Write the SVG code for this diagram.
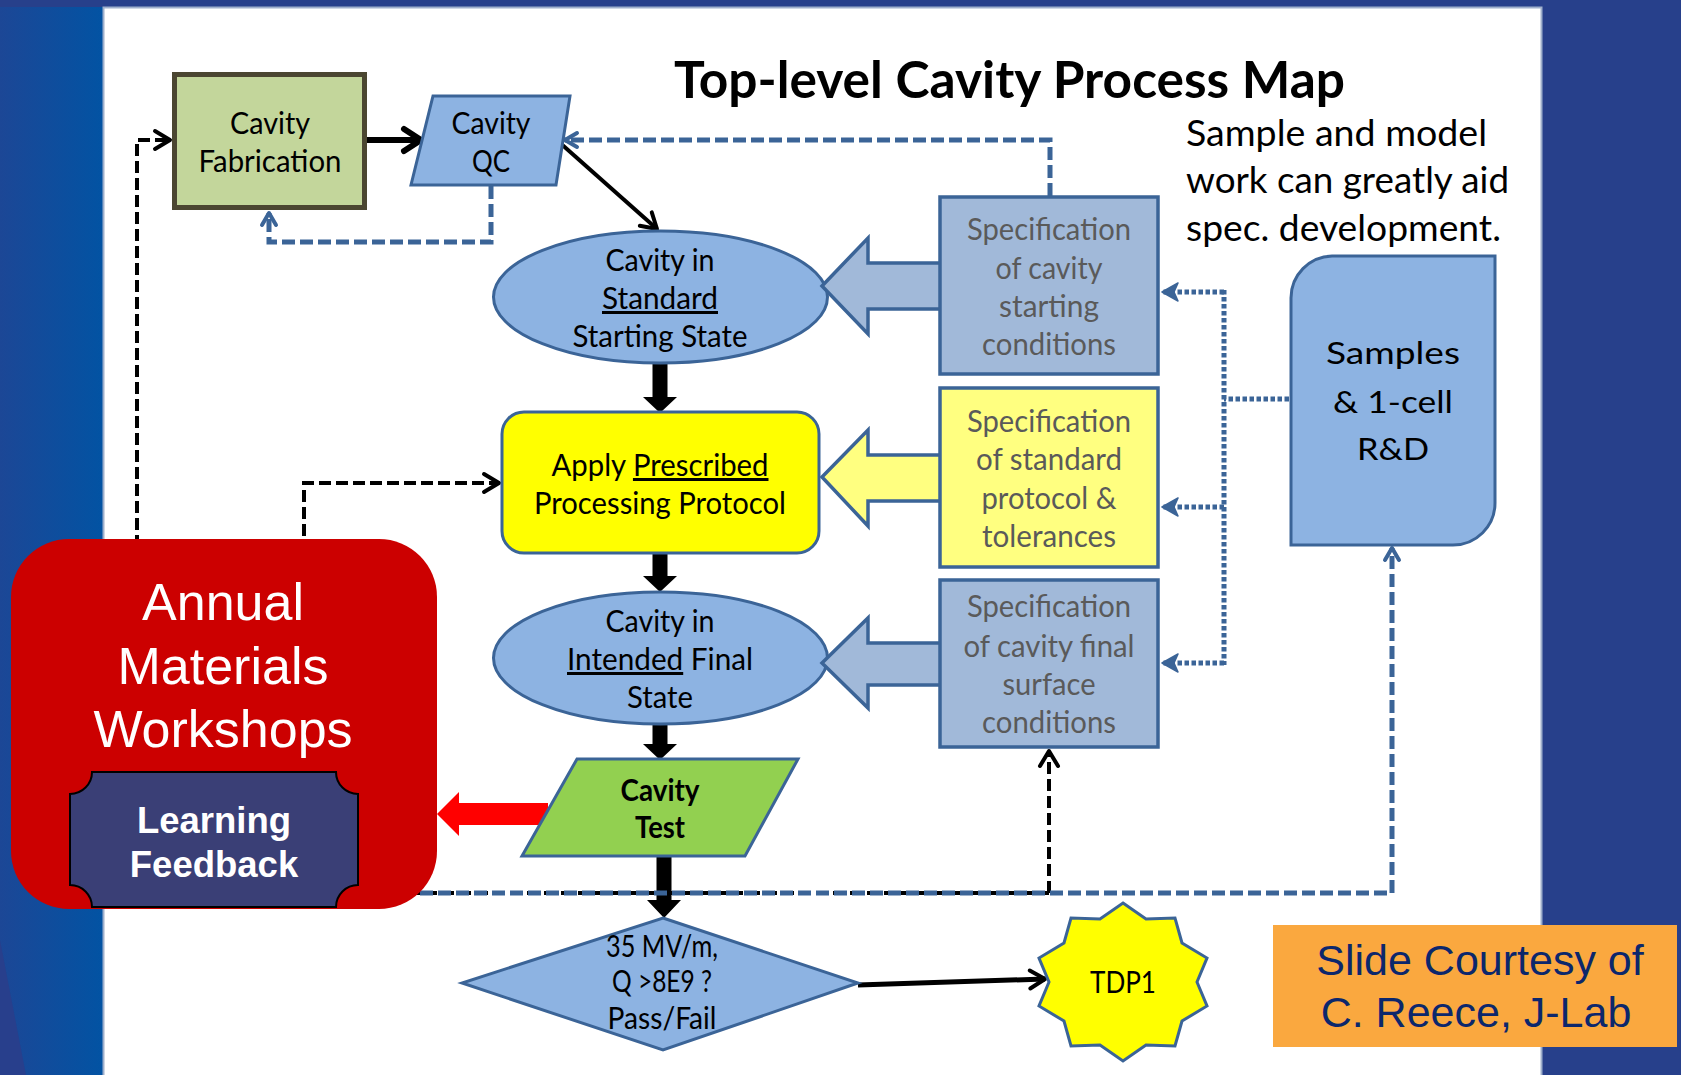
<svg xmlns="http://www.w3.org/2000/svg" width="1681" height="1075" viewBox="0 0 1681 1075">
  <defs>
    <linearGradient id="leftBand" x1="0" y1="0" x2="1" y2="0">
      <stop offset="0" stop-color="#1c4796"/>
      <stop offset="1" stop-color="#0253a3"/>
    </linearGradient>
    <!-- open chevron heads -->
    <marker id="chevK" markerUnits="userSpaceOnUse" markerWidth="24" markerHeight="24" viewBox="0 0 24 24" refX="20" refY="12" orient="auto" overflow="visible">
      <path d="M5,3 L20,12 L5,21" fill="none" stroke="#000" stroke-width="4" stroke-linecap="round" stroke-linejoin="round"/>
    </marker>
    <marker id="chevKBig" markerUnits="userSpaceOnUse" markerWidth="28" markerHeight="28" viewBox="0 0 28 28" refX="24" refY="14" orient="auto" overflow="visible">
      <path d="M7,3 L24,14 L7,25" fill="none" stroke="#000" stroke-width="6" stroke-linecap="round" stroke-linejoin="round"/>
    </marker>
    <marker id="chevB" markerUnits="userSpaceOnUse" markerWidth="24" markerHeight="24" viewBox="0 0 24 24" refX="20" refY="12" orient="auto" overflow="visible">
      <path d="M8,5 L20,12 L8,19" fill="none" stroke="#3b6497" stroke-width="4" stroke-linecap="round" stroke-linejoin="round"/>
    </marker>
    <!-- notched solid head for the dotted spec links -->
    <marker id="notchB" markerUnits="userSpaceOnUse" markerWidth="24" markerHeight="24" viewBox="0 0 24 24" refX="22" refY="12" orient="auto" overflow="visible">
      <path d="M22,12 L6,3 L10,12 L6,21 Z" fill="#3b6497" stroke="#3b6497" stroke-width="1.5" stroke-linejoin="round"/>
    </marker>
    <style>
      .cal { font-family: Lato, "Open Sans", "DejaVu Sans", sans-serif; }
      .ari { font-family: "Liberation Sans", Arial, sans-serif; }
      .node { font-size: 30px; fill: #000; text-anchor: middle; }
      .spec { font-size: 30px; fill: #5a5a5a; text-anchor: middle; }
      .blue { fill: #8db3e2; stroke: #3b6497; stroke-width: 3; }
      .specBlue { fill: #a1b9d9; stroke: #3b6497; stroke-width: 3.5; }
      .specYel { fill: #ffff80; stroke: #3b6497; stroke-width: 3.5; }
      .dashK { fill: none; stroke: #000; stroke-width: 4; stroke-dasharray: 12 5; }
      .dashB { fill: none; stroke: #3b6497; stroke-width: 5; stroke-dasharray: 13 5; }
      .dotB { fill: none; stroke: #3b6497; stroke-width: 5; stroke-dasharray: 4.5 2.5; }
      .solidK { fill: none; stroke: #000; }
      .thick { fill: #000; }
      .ul { text-decoration: underline; }
    </style>
  </defs>

  <!-- slide background -->
  <rect x="0" y="0" width="1681" height="1075" fill="#27408b"/>
  <rect x="0" y="7" width="104" height="1068" fill="url(#leftBand)"/>
  <polygon points="0,940 26,1075 0,1075" fill="#283f8c"/>
  <rect x="103.5" y="7.5" width="1438" height="1075" fill="#ffffff" stroke="#9fb0cc" stroke-width="2"/>

  <!-- title and note -->
  <text class="cal" x="674" y="98" font-size="52" font-weight="bold" textLength="671" lengthAdjust="spacingAndGlyphs">Top-level Cavity Process Map</text>
  <g class="cal" font-size="36">
    <text x="1186" y="146" textLength="301" lengthAdjust="spacingAndGlyphs">Sample and model</text>
    <text x="1186" y="193" textLength="323" lengthAdjust="spacingAndGlyphs">work can greatly aid</text>
    <text x="1186" y="241" textLength="315" lengthAdjust="spacingAndGlyphs">spec. development.</text>
  </g>

  <!-- connectors -->
  <g id="connectors">
    <!-- main flow, heavy arrows -->
    <polygon class="thick" points="652.5,362 667.5,362 667.5,397 677,397 660,413 643,397 652.5,397"/>
    <polygon class="thick" points="652.5,553 667.5,553 667.5,576 677,576 660,592 643,576 652.5,576"/>
    <polygon class="thick" points="652.5,723 667.5,723 667.5,744 677,744 660,760 643,744 652.5,744"/>
    <polygon class="thick" points="656.5,855 671.5,855 671.5,900 681,900 664,918 647,900 656.5,900"/>
    <path class="solidK" stroke-width="6" d="M367,140 H421" marker-end="url(#chevKBig)"/>
    <path class="solidK" stroke-width="4" d="M559,142 L657,229" marker-end="url(#chevK)"/>
    <path class="solidK" stroke-width="5" d="M858,985 L1045,979" marker-end="url(#chevK)"/>

    <!-- red feedback arrow -->
    <polygon points="548,803 459,803 459,792 437,814 459,836 459,825 548,825" fill="#ff0000"/>

    <!-- black dashed feedback lines -->
    <path class="dashK" d="M1049,893 H137 V140 H170" marker-end="url(#chevK)"/>
    <path class="dashK" d="M304,893 V483 H499" marker-end="url(#chevK)"/>
    <path class="dashK" d="M1049,893 V751" marker-end="url(#chevK)"/>

    <!-- blue dashed loops -->
    <path class="dashB" d="M491,186 V242 H269 V213" marker-end="url(#chevB)"/>
    <path class="dashB" stroke-width="4" d="M1050,196 V140 H565" marker-end="url(#chevB)"/>
    <path class="dashB" stroke-width="6" d="M420,893 H1392 V548" marker-end="url(#chevB)"/>

    <!-- dotted links from samples work to the specifications -->
    <path class="dotB" d="M1289,399 H1224"/>
    <path class="dotB" d="M1224,290 V665"/>
    <path class="dotB" d="M1224,292 H1162" marker-end="url(#notchB)"/>
    <path class="dotB" d="M1224,507 H1162" marker-end="url(#notchB)"/>
    <path class="dotB" d="M1224,663 H1162" marker-end="url(#notchB)"/>
  </g>

  <!-- nodes -->
  <g id="fabrication">
    <rect x="174.5" y="74.5" width="190" height="133" fill="#c3d69b" stroke="#4b4631" stroke-width="5"/>
    <text class="cal node" x="270" y="134" textLength="80" lengthAdjust="spacingAndGlyphs">Cavity</text>
    <text class="cal node" x="270" y="172" textLength="143" lengthAdjust="spacingAndGlyphs">Fabrication</text>
  </g>

  <g id="cavity-qc">
    <polygon class="blue" points="433,96 570,96 556,185 411,185"/>
    <text class="cal node" x="491" y="134" textLength="79" lengthAdjust="spacingAndGlyphs">Cavity</text>
    <text class="cal node" x="491" y="172" textLength="38" lengthAdjust="spacingAndGlyphs">QC</text>
  </g>

  <g id="standard-state">
    <ellipse class="blue" cx="660.5" cy="297" rx="167" ry="66"/>
    <text class="cal node" x="660" y="271" textLength="109" lengthAdjust="spacingAndGlyphs">Cavity in</text>
    <text class="cal node ul" x="660" y="309" textLength="116" lengthAdjust="spacingAndGlyphs">Standard</text>
    <text class="cal node" x="660" y="347" textLength="175" lengthAdjust="spacingAndGlyphs">Starting State</text>
  </g>

  <g id="apply-protocol">
    <rect x="502" y="412" width="317" height="141" rx="22" fill="#ffff00" stroke="#3b6497" stroke-width="3"/>
    <text class="cal node" x="660" y="476" textLength="217" lengthAdjust="spacingAndGlyphs">Apply <tspan class="ul">Prescribed</tspan></text>
    <text class="cal node" x="660" y="514" textLength="252" lengthAdjust="spacingAndGlyphs">Processing Protocol</text>
  </g>

  <g id="final-state">
    <ellipse class="blue" cx="660.5" cy="658" rx="167" ry="66"/>
    <text class="cal node" x="660" y="632" textLength="109" lengthAdjust="spacingAndGlyphs">Cavity in</text>
    <text class="cal node" x="660" y="670" textLength="186" lengthAdjust="spacingAndGlyphs"><tspan class="ul">Intended</tspan> Final</text>
    <text class="cal node" x="660" y="708" textLength="66" lengthAdjust="spacingAndGlyphs">State</text>
  </g>

  <g id="cavity-test">
    <polygon points="577,759 798,759 745,856 522,856" fill="#92d050" stroke="#3b6497" stroke-width="3"/>
    <text class="cal node" x="660" y="801" font-weight="bold" textLength="79" lengthAdjust="spacingAndGlyphs">Cavity</text>
    <text class="cal node" x="660" y="838" font-weight="bold" textLength="50" lengthAdjust="spacingAndGlyphs">Test</text>
  </g>

  <g id="pass-fail">
    <polygon class="blue" points="663,918 858,983 663,1050 462,983"/>
    <text class="cal node" x="662" y="957" font-size="27" textLength="112" lengthAdjust="spacingAndGlyphs">35 MV/m,</text>
    <text class="cal node" x="662" y="992" font-size="27" textLength="100" lengthAdjust="spacingAndGlyphs">Q &gt;8E9 ?</text>
    <text class="cal node" x="662" y="1029" font-size="27" textLength="109" lengthAdjust="spacingAndGlyphs">Pass/Fail</text>
  </g>

  <g id="tdp1">
    <polygon points="1123,903 1146,919 1175,918 1182,943 1207,958 1197,982 1207,1006 1182,1021 1175,1046 1146,1045 1123,1061 1100,1045 1071,1046 1064,1021 1039,1006 1049,982 1039,958 1064,943 1071,918 1100,919" fill="#ffff00" stroke="#3b6497" stroke-width="3" stroke-linejoin="miter"/>
    <text class="cal node" x="1123" y="993" font-size="29" textLength="66" lengthAdjust="spacingAndGlyphs">TDP1</text>
  </g>

  <g id="spec-starting">
    <polygon class="specBlue" points="941,263 868,263 868,238 822,286 868,334 868,309 941,309"/>
    <rect class="specBlue" x="940" y="197" width="218" height="177"/>
    <text class="cal spec" x="1049" y="240" textLength="164" lengthAdjust="spacingAndGlyphs">Specification</text>
    <text class="cal spec" x="1049" y="279" textLength="107" lengthAdjust="spacingAndGlyphs">of cavity</text>
    <text class="cal spec" x="1049" y="317" textLength="100" lengthAdjust="spacingAndGlyphs">starting</text>
    <text class="cal spec" x="1049" y="355" textLength="134" lengthAdjust="spacingAndGlyphs">conditions</text>
  </g>

  <g id="spec-protocol">
    <polygon class="specYel" points="941,455 868,455 868,430 822,477 868,526 868,501 941,501"/>
    <rect class="specYel" x="940" y="388" width="218" height="179"/>
    <text class="cal spec" x="1049" y="432" textLength="164" lengthAdjust="spacingAndGlyphs">Specification</text>
    <text class="cal spec" x="1049" y="470" textLength="146" lengthAdjust="spacingAndGlyphs">of standard</text>
    <text class="cal spec" x="1049" y="509" textLength="135" lengthAdjust="spacingAndGlyphs">protocol &amp;</text>
    <text class="cal spec" x="1049" y="547" textLength="134" lengthAdjust="spacingAndGlyphs">tolerances</text>
  </g>

  <g id="spec-final">
    <polygon class="specBlue" points="941,643 868,643 868,618 822,663 868,708 868,685 941,685"/>
    <rect class="specBlue" x="940" y="580" width="218" height="167"/>
    <text class="cal spec" x="1049" y="617" textLength="164" lengthAdjust="spacingAndGlyphs">Specification</text>
    <text class="cal spec" x="1049" y="657" textLength="171" lengthAdjust="spacingAndGlyphs">of cavity final</text>
    <text class="cal spec" x="1049" y="695" textLength="93" lengthAdjust="spacingAndGlyphs">surface</text>
    <text class="cal spec" x="1049" y="733" textLength="134" lengthAdjust="spacingAndGlyphs">conditions</text>
  </g>

  <g id="samples-rd">
    <path class="blue" d="M1332,256 H1495 V503 A42,42 0 0 1 1453,545 H1291 V298 A42,42 0 0 1 1332,256 Z"/>
    <text class="cal node" x="1393" y="364" font-size="38" textLength="134" lengthAdjust="spacingAndGlyphs">Samples</text>
    <text class="cal node" x="1393" y="413" font-size="38" textLength="120" lengthAdjust="spacingAndGlyphs">&amp; 1-cell</text>
    <text class="cal node" x="1393" y="460" font-size="38" textLength="72" lengthAdjust="spacingAndGlyphs">R&amp;D</text>
  </g>

  <g id="workshops">
    <rect x="11" y="539" width="426" height="370" rx="58" fill="#cc0000"/>
    <g class="ari" font-size="52" fill="#ffffff" text-anchor="middle">
      <text x="223" y="620">Annual</text>
      <text x="223" y="684">Materials</text>
      <text x="223" y="747">Workshops</text>
    </g>
  </g>

  <g id="learning-feedback">
    <path d="M92,772 H336 A22,22 0 0 0 358,794 V885 A22,22 0 0 0 336,907 H92 A22,22 0 0 0 70,885 V794 A22,22 0 0 0 92,772 Z" fill="#3a3f76" stroke="#000" stroke-width="2"/>
    <g class="ari" font-size="36.5" font-weight="bold" fill="#ffffff" text-anchor="middle">
      <text x="214" y="833">Learning</text>
      <text x="214" y="877">Feedback</text>
    </g>
  </g>

  <g id="courtesy">
    <rect x="1273" y="925" width="404" height="122" fill="#faa83f"/>
    <g class="ari" font-size="43" fill="#0c276c" text-anchor="middle">
      <text x="1480" y="975">Slide Courtesy of</text>
      <text x="1476" y="1027">C. Reece, J-Lab</text>
    </g>
  </g>
</svg>
